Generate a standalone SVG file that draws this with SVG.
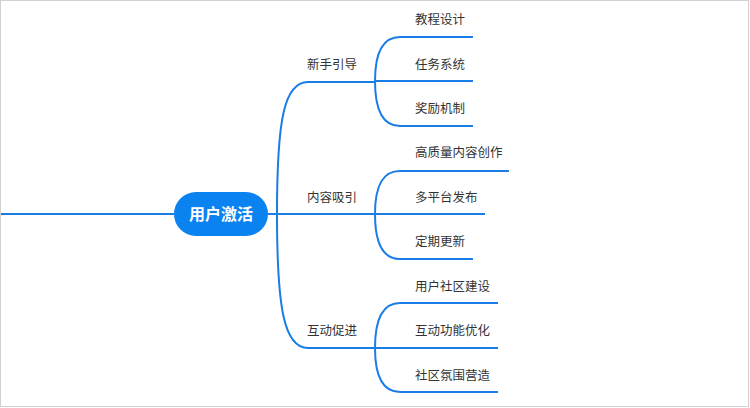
<svg xmlns="http://www.w3.org/2000/svg" width="750" height="408" viewBox="0 0 750 408">
<style>
.ln{fill:none;stroke:#1a7de6;stroke-width:2;stroke-linecap:butt}
.t{font-family:"Noto Sans CJK SC","Noto Sans",sans-serif;font-size:12.5px;fill:#333}
.c{font-family:"Noto Sans CJK SC","Noto Sans",sans-serif;font-size:16px;font-weight:bold;fill:#fff}
</style>
<rect x="0.5" y="0.5" width="748" height="406" fill="#fff" stroke="#d0d0d0" stroke-width="1"/>
<g id="connectors">
<path class="ln" d="M1 214 L174 214"/>
<path class="ln" d="M268 214 L375 214"/>
<path class="ln" d="M277 214 C277 120 284 82 308 82 L375 82"/>
<path class="ln" d="M277 214 C277 308 284 348 308 348 L375 348"/>
<path class="ln" d="M375 81 C375 50 384 37 400 37 L473 37"/>
<path class="ln" d="M375 81 L473 81"/>
<path class="ln" d="M375 81 C375 112 384 126 400 126 L473 126"/>
<path class="ln" d="M375 214 C375 183 384 171 400 171 L509 171"/>
<path class="ln" d="M375 214 L485 214"/>
<path class="ln" d="M375 214 C375 245 384 259 400 259 L473 259"/>
<path class="ln" d="M375 348 C375 317 384 303 400 303 L498 303"/>
<path class="ln" d="M375 348 L498 348"/>
<path class="ln" d="M375 348 C375 379 384 392 400 392 L498 392"/>
</g>
<g id="root">
<rect x="174" y="192" width="94" height="44" rx="22" fill="#0a82f0"/>
<text class="c" x="221" y="220" text-anchor="middle">用户激活</text>
</g>
<g id="n1"><text class="t" x="307" y="68.5">新手引导</text></g>
<g id="n2"><text class="t" x="307" y="201.5">内容吸引</text></g>
<g id="n3"><text class="t" x="307" y="334.5">互动促进</text></g>
<g id="n11"><text class="t" x="415" y="23.5">教程设计</text></g>
<g id="n12"><text class="t" x="415" y="68.5">任务系统</text></g>
<g id="n13"><text class="t" x="415" y="112.5">奖励机制</text></g>
<g id="n21"><text class="t" x="415" y="156.5">高质量内容创作</text></g>
<g id="n22"><text class="t" x="415" y="201.5">多平台发布</text></g>
<g id="n23"><text class="t" x="415" y="245.5">定期更新</text></g>
<g id="n31"><text class="t" x="415" y="290.5">用户社区建设</text></g>
<g id="n32"><text class="t" x="415" y="334.5">互动功能优化</text></g>
<g id="n33"><text class="t" x="415" y="379.5">社区氛围营造</text></g>
</svg>
